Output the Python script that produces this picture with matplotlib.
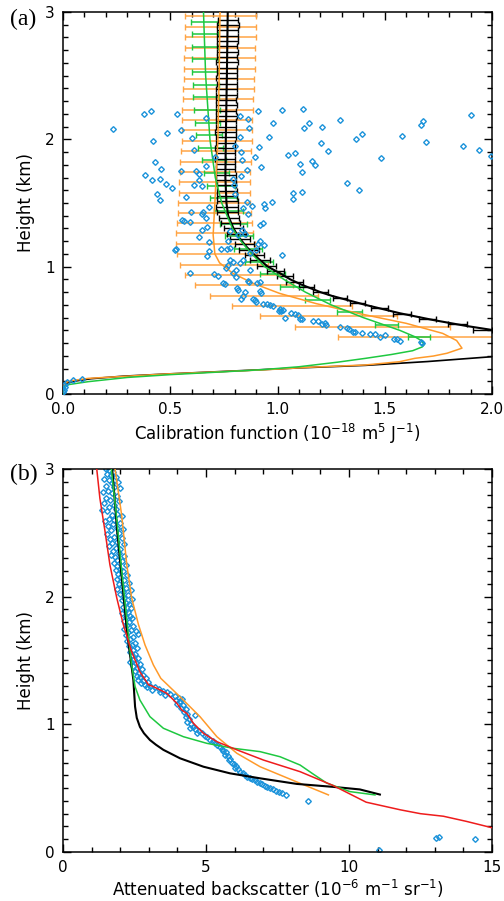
import matplotlib
matplotlib.use('Agg')
import matplotlib.pyplot as plt
from matplotlib.ticker import MultipleLocator

# ---------------- panel (a): calibration function ----------------
# black curve, upper branch (height km, value)
blk_up_h = [3.0, 2.5, 2.0, 1.7, 1.5, 1.4, 1.3, 1.236, 1.157, 1.079, 1.0, 0.95, 0.90,
            0.86, 0.80, 0.77, 0.70, 0.634, 0.581, 0.534, 0.503, 0.48]
blk_up_x = [0.768, 0.764, 0.759, 0.757, 0.762, 0.770, 0.795, 0.817, 0.855, 0.900, 0.955,
            1.010, 1.060, 1.110, 1.200, 1.255, 1.410, 1.571, 1.726, 1.882, 2.0, 2.12]
# black curve, lower branch
blk_lo_h = [0.0, 0.03, 0.06, 0.085, 0.10, 0.12, 0.14, 0.157, 0.185, 0.205, 0.225, 0.255, 0.293, 0.31]
blk_lo_x = [0.0, 0.001, 0.004, 0.015, 0.05, 0.13, 0.28, 0.48, 0.85, 1.10, 1.41, 1.70, 2.0, 2.15]

org_h = [3.0, 2.5, 2.0, 1.5, 1.25, 1.1, 1.03, 0.95, 0.87, 0.79, 0.71, 0.63, 0.555, 0.476,
         0.42, 0.36, 0.32, 0.298, 0.28, 0.254, 0.228, 0.21, 0.19, 0.157, 0.14, 0.123,
         0.105, 0.09, 0.05, 0.0]
org_x = [0.732, 0.728, 0.722, 0.708, 0.700, 0.708, 0.730, 0.790, 0.885, 1.010, 1.180, 1.385,
         1.600, 1.770, 1.835, 1.860, 1.790, 1.726, 1.640, 1.570, 1.410, 1.150, 0.940, 0.480,
         0.300, 0.118, 0.040, 0.010, 0.002, 0.0]

grn_h = [3.0, 2.5, 2.0, 1.7, 1.5, 1.3, 1.2, 1.1, 1.0, 0.9, 0.8, 0.7, 0.6, 0.5, 0.45, 0.42,
         0.39, 0.37, 0.34, 0.31, 0.28, 0.25, 0.214, 0.19, 0.17, 0.152, 0.13, 0.097, 0.075,
         0.06, 0.03, 0.0]
grn_x = [0.655, 0.665, 0.685, 0.710, 0.740, 0.790, 0.830, 0.880, 0.940, 1.030, 1.130, 1.250,
         1.400, 1.570, 1.640, 1.670, 1.685, 1.675, 1.630, 1.530, 1.410, 1.280, 1.100, 0.920,
         0.700, 0.500, 0.300, 0.118, 0.030, 0.005, 0.001, 0.0]

# orange error bars: height, low, high
obar_h = [2.969, 2.885, 2.800, 2.715, 2.636, 2.550, 2.470, 2.393, 2.314, 2.230, 2.152, 2.073,
          1.990, 1.908, 1.825, 1.746, 1.662, 1.581, 1.503, 1.419, 1.340, 1.262, 1.178, 1.097,
          1.013, 0.935, 0.856, 0.772, 0.694, 0.613, 0.529, 0.448]
obar_lo = [0.571, 0.571, 0.570, 0.568, 0.566, 0.564, 0.562, 0.560, 0.560, 0.557, 0.555, 0.554,
           0.553, 0.549, 0.546, 0.545, 0.542, 0.540, 0.537, 0.534, 0.531, 0.529, 0.529, 0.532,
           0.545, 0.569, 0.615, 0.685, 0.786, 0.918, 1.082, 1.283]
obar_hi = [0.900, 0.900, 0.899, 0.897, 0.895, 0.893, 0.892, 0.890, 0.887, 0.884, 0.882, 0.881,
           0.879, 0.876, 0.875, 0.873, 0.871, 0.870, 0.871, 0.875, 0.879, 0.884, 0.893, 0.905,
           0.955, 1.010, 1.074, 1.190, 1.345, 1.556, 1.805, 2.300]

# green error bars
gbar_h = [2.925, 2.826, 2.726, 2.627, 2.528, 2.429, 2.330, 2.230, 2.131, 2.032, 1.933, 1.834,
          1.734, 1.635, 1.536, 1.437, 1.338, 1.238, 1.139, 1.040, 0.941, 0.842, 0.742, 0.643,
          0.544, 0.445]
gbar_lo = [0.597, 0.600, 0.601, 0.602, 0.603, 0.606, 0.608, 0.612, 0.615, 0.620, 0.631, 0.648,
           0.659, 0.670, 0.685, 0.705, 0.733, 0.756, 0.795, 0.849, 0.918, 1.012, 1.128, 1.278,
           1.455, 1.610]
gbar_hi = [0.721, 0.721, 0.722, 0.723, 0.724, 0.725, 0.727, 0.730, 0.734, 0.740, 0.747, 0.760,
           0.776, 0.802, 0.809, 0.840, 0.857, 0.888, 0.927, 0.981, 1.035, 1.120, 1.245, 1.392,
           1.563, 1.710]

# black error bars: height, centre, half width
kbar_h = [2.94, 2.898, 2.856, 2.814, 2.772, 2.73, 2.688, 2.646, 2.604, 2.562, 2.52, 2.478,
          2.436, 2.394, 2.352, 2.31, 2.268, 2.226, 2.184, 2.142, 2.10, 2.058, 2.016, 1.974,
          1.932, 1.89, 1.848, 1.806, 1.764, 1.722, 1.68, 1.638, 1.596, 1.554, 1.512, 1.47,
          1.428, 1.386, 1.344, 1.302, 1.26, 1.218, 1.176, 1.134, 1.092, 1.05, 1.008, 0.966,
          0.924, 0.882, 0.84, 0.798, 0.756, 0.714, 0.672, 0.63, 0.588, 0.546, 0.504]
kbar_x = [0.768, 0.768, 0.768, 0.767, 0.767, 0.766, 0.766, 0.765, 0.765, 0.764, 0.764, 0.763,
          0.763, 0.762, 0.762, 0.761, 0.761, 0.760, 0.760, 0.759, 0.759, 0.758, 0.758, 0.757,
          0.757, 0.757, 0.757, 0.757, 0.758, 0.759, 0.760, 0.762, 0.764, 0.765, 0.765, 0.765,
          0.768, 0.772, 0.782, 0.795, 0.808, 0.825, 0.845, 0.866, 0.892, 0.920, 0.950, 0.990,
          1.035, 1.080, 1.135, 1.200, 1.290, 1.375, 1.475, 1.580, 1.700, 1.840, 1.956]
kbar_e = [0.047, 0.051, 0.049, 0.048, 0.050, 0.047, 0.049, 0.048, 0.050, 0.047, 0.048, 0.049,
          0.047, 0.048, 0.050, 0.047, 0.048, 0.046, 0.049, 0.047, 0.046, 0.048, 0.047, 0.046,
          0.047, 0.045, 0.047, 0.046, 0.045, 0.046, 0.047, 0.045, 0.046, 0.047, 0.049, 0.050,
          0.048, 0.047, 0.045, 0.044, 0.043, 0.045, 0.044, 0.046, 0.045, 0.047, 0.044, 0.040,
          0.038, 0.040, 0.036, 0.034, 0.032, 0.035, 0.040, 0.042, 0.040, 0.045, 0.043]

# measured calibration values (blue diamonds)
cal_x = [0.233, 0.377, 0.408, 0.532, 0.419, 0.486, 0.549, 0.602, 0.612, 0.666, 0.825, 0.864,
         0.868, 0.825, 0.911, 1.021, 1.118, 0.981, 0.962, 0.912, 0.894, 0.830, 0.834, 0.801,
         1.149, 1.123, 1.208, 1.202, 1.234, 1.292, 1.365, 1.394, 1.580, 1.670, 1.678, 1.693,
         1.903, 1.863, 1.941, 1.995, 1.483, 1.047, 1.080, 1.107, 1.159, 1.175, 1.114, 1.326,
         1.382, 1.112, 1.074, 1.073, 0.923, 0.856, 0.828, 0.794, 0.798, 0.803, 0.708, 0.666,
         0.619, 0.632, 0.549, 0.430, 0.458, 0.380, 0.417, 0.451, 0.482, 0.507, 0.439, 0.453,
         0.610, 0.632, 0.646, 0.574, 0.974, 0.937, 0.941, 0.882, 0.856, 0.840, 0.864, 0.934,
         0.920, 0.682, 0.596, 0.651, 0.647, 0.557, 0.562, 0.594, 0.666, 0.669, 0.647, 0.635,
         0.679, 0.520, 0.529, 0.682, 0.672, 0.736, 0.778, 0.836, 0.816, 0.848, 0.769, 0.778,
         0.766, 0.918, 0.909, 0.939, 0.902, 1.021, 0.870, 0.794, 0.778, 0.767, 0.759, 0.794,
         0.826, 0.806, 0.873, 0.839, 0.705, 0.721, 0.591, 0.753, 0.747, 0.806, 0.809, 0.816,
         0.864, 0.868, 0.904, 0.917, 0.848, 0.840, 0.828, 0.918, 0.924, 0.884, 0.897, 0.900,
         0.934, 0.949, 0.965, 0.980, 1.012, 1.015, 1.009, 1.024, 1.037, 1.061, 1.082, 1.097,
         1.105, 1.114, 1.167, 1.191, 1.206, 1.222, 1.226, 1.292, 1.323, 1.335, 1.351, 1.362,
         1.393, 1.432, 1.455, 1.479, 1.502, 1.541, 1.556, 1.572, 1.670, 1.675,
         0.001, 0.009, 0.017, 0.048, 0.087, 0.004, 0.003]
cal_h = [2.08, 2.20, 2.22, 2.20, 1.99, 2.05, 2.07, 2.01, 1.92, 2.17, 2.18, 2.16,
         2.09, 2.02, 2.22, 2.23, 2.24, 2.13, 2.02, 1.94, 1.86, 1.90, 1.84, 1.95,
         2.13, 2.09, 2.10, 1.97, 1.91, 2.15, 2.00, 2.04, 2.03, 2.11, 2.14, 1.98,
         2.19, 1.95, 1.92, 1.87, 1.85, 1.88, 1.89, 1.81, 1.83, 1.80, 1.74, 1.66,
         1.60, 1.59, 1.58, 1.53, 1.78, 1.76, 1.71, 1.69, 1.64, 1.57, 1.86, 1.79,
         1.75, 1.73, 1.75, 1.82, 1.77, 1.72, 1.68, 1.69, 1.65, 1.62, 1.57, 1.52,
         1.64, 1.68, 1.63, 1.55, 1.51, 1.49, 1.46, 1.48, 1.51, 1.46, 1.41, 1.34,
         1.33, 1.47, 1.43, 1.43, 1.41, 1.37, 1.36, 1.35, 1.38, 1.31, 1.29, 1.23,
         1.19, 1.13, 1.14, 1.12, 1.08, 1.14, 1.28, 1.29, 1.25, 1.26, 1.20, 1.15,
         1.14, 1.20, 1.18, 1.17, 1.13, 1.09, 1.11, 1.04, 1.05, 1.01, 0.99, 0.95,
         1.03, 0.97, 0.97, 1.05, 0.94, 0.93, 0.95, 0.86, 0.87, 0.92, 0.83, 0.82,
         0.89, 0.88, 0.87, 0.88, 0.80, 0.77, 0.75, 0.81, 0.79, 0.75, 0.74, 0.72,
         0.71, 0.71, 0.70, 0.69, 0.67, 0.65, 0.65, 0.66, 0.60, 0.64, 0.63, 0.62,
         0.59, 0.59, 0.57, 0.57, 0.55, 0.56, 0.54, 0.53, 0.52, 0.51, 0.49, 0.49,
         0.48, 0.47, 0.47, 0.45, 0.46, 0.43, 0.43, 0.42, 0.41, 0.40,
         0.018, 0.057, 0.097, 0.110, 0.118, 0.035, 0.07]

# ---------------- panel (b): attenuated backscatter ----------------
red_h = [3.05, 3.0, 2.77, 2.51, 2.25, 1.99, 1.78, 1.57, 1.41, 1.31, 1.295, 1.243, 1.165,
         1.112, 1.086, 1.008, 0.93, 0.864, 0.80, 0.72, 0.629, 0.52, 0.39, 0.33, 0.30, 0.28,
         0.24, 0.19]
red_x = [1.15, 1.18, 1.29, 1.47, 1.64, 1.88, 2.11, 2.40, 2.69, 2.99, 3.16, 3.63, 3.98,
         4.15, 4.33, 4.56, 4.91, 5.38, 6.08, 7.01, 8.29, 9.45, 10.6, 11.8, 12.5, 13.3,
         14.1, 15.0]

blkb_h = [3.0, 2.5, 2.0, 1.7, 1.45, 1.347, 1.138, 1.05, 0.98, 0.93, 0.877, 0.84, 0.80,
          0.734, 0.668, 0.616, 0.577, 0.533, 0.51, 0.49, 0.45]
blkb_x = [1.72, 1.90, 2.12, 2.25, 2.40, 2.46, 2.52, 2.58, 2.69, 2.83, 3.04, 3.25, 3.51,
          4.09, 4.91, 5.84, 6.89, 8.18, 9.45, 10.38, 11.08]

grnb_h = [3.0, 2.63, 2.23, 1.84, 1.48, 1.295, 1.19, 1.06, 0.969, 0.903, 0.851, 0.812,
          0.786, 0.746, 0.681, 0.61, 0.54, 0.473, 0.447]
grnb_x = [1.69, 1.87, 2.04, 2.22, 2.39, 2.52, 2.69, 3.04, 3.51, 4.21, 5.03, 5.96,
          6.89, 7.59, 8.29, 8.75, 9.22, 10.03, 10.91]

orgb_h = [3.0, 2.64, 2.25, 1.99, 1.78, 1.62, 1.465, 1.36, 1.216, 1.06, 0.903, 0.773,
          0.668, 0.538, 0.447]
orgb_x = [1.82, 2.05, 2.23, 2.40, 2.64, 2.87, 3.16, 3.42, 4.09, 4.79, 5.38, 6.08,
          6.89, 8.29, 9.28]

obs_pts = [
    (1.50, 3.00), (1.62, 2.99), (1.75, 2.98), (1.55, 2.96), (1.68, 2.95), (1.85, 2.94),
    (1.45, 2.92), (1.60, 2.91), (1.92, 2.90), (1.70, 2.89), (1.52, 2.87), (1.80, 2.86),
    (1.98, 2.85), (1.58, 2.83), (1.40, 2.82), (1.72, 2.81), (1.88, 2.79), (1.50, 2.77),
    (1.65, 2.76), (1.95, 2.75), (1.42, 2.73), (1.78, 2.72), (1.60, 2.70), (1.85, 2.69),
    (1.35, 2.68), (1.55, 2.67), (1.90, 2.65), (1.70, 2.64), (2.05, 2.63), (1.62, 2.61),
    (1.80, 2.60), (1.48, 2.59), (2.00, 2.58), (1.75, 2.57), (1.58, 2.55), (1.88, 2.54),
    (2.10, 2.53), (1.68, 2.52), (1.95, 2.50), (1.55, 2.49), (1.80, 2.47), (2.05, 2.46),
    (1.65, 2.45), (1.90, 2.43), (1.72, 2.42), (2.12, 2.41), (1.60, 2.40), (1.85, 2.38),
    (2.00, 2.37), (1.75, 2.36), (1.95, 2.34), (1.68, 2.33), (2.15, 2.32), (1.82, 2.31),
    (1.90, 2.29), (2.05, 2.28), (1.78, 2.26), (2.20, 2.25), (1.88, 2.24), (1.98, 2.22),
    (1.84, 2.21), (2.10, 2.20), (1.92, 2.18), (2.25, 2.17), (2.00, 2.15), (1.88, 2.14),
    (2.15, 2.13), (2.30, 2.11), (1.95, 2.10), (2.05, 2.08), (2.20, 2.07), (1.90, 2.06),
    (2.38, 2.05), (2.10, 2.04), (2.00, 2.02), (2.28, 2.01), (2.15, 1.99), (2.40, 1.98),
    (2.05, 1.97), (2.22, 1.95), (2.32, 1.94), (2.10, 1.92), (2.38, 1.91), (2.18, 1.89),
    (2.28, 1.88), (2.05, 1.87), (2.35, 1.85), (2.20, 1.84), (2.42, 1.83), (2.12, 1.81),
    (2.30, 1.80), (2.25, 1.78), (2.45, 1.77), (2.15, 1.75), (2.38, 1.74), (2.55, 1.73),
    (2.28, 1.72), (2.62, 1.71), (2.20, 1.70), (2.45, 1.68), (2.35, 1.67), (2.25, 1.65),
    (2.50, 1.64), (2.40, 1.62), (2.30, 1.61), (2.58, 1.60), (2.45, 1.58), (2.35, 1.57),
    (2.52, 1.55), (2.40, 1.54), (2.62, 1.52), (2.48, 1.51), (2.35, 1.49), (2.55, 1.48),
    (2.70, 1.47), (2.45, 1.46), (2.60, 1.44), (2.75, 1.43), (2.52, 1.42), (2.65, 1.40),
    (2.80, 1.39), (2.58, 1.38), (2.70, 1.37), (2.90, 1.36), (2.62, 1.35), (2.78, 1.34),
    (2.98, 1.33), (2.72, 1.32), (2.85, 1.31), (3.05, 1.30), (3.20, 1.29), (2.95, 1.29),
    (3.35, 1.28), (3.10, 1.27), (3.50, 1.26), (3.62, 1.25), (3.40, 1.25), (3.75, 1.24),
    (3.58, 1.23), (3.90, 1.22), (4.05, 1.21), (3.95, 1.19), (4.15, 1.20), (4.08, 1.18),
    (3.98, 1.16), (4.20, 1.15), (4.12, 1.13), (4.30, 1.12), (4.22, 1.10), (4.35, 1.08),
    (4.60, 1.07), (4.30, 1.06), (4.42, 1.04), (4.35, 1.02), (4.48, 1.00), (4.55, 0.98),
    (4.45, 0.97), (4.62, 0.96), (4.75, 0.95), (4.68, 0.93), (4.85, 0.93), (4.95, 0.91),
    (5.05, 0.90), (5.15, 0.88), (5.25, 0.87), (5.30, 0.85), (5.40, 0.84), (5.48, 0.82),
    (5.55, 0.81), (5.60, 0.79), (5.70, 0.78), (5.65, 0.76), (5.78, 0.75), (5.85, 0.73),
    (5.80, 0.72), (5.92, 0.70), (5.98, 0.69), (6.05, 0.67), (6.02, 0.66), (6.12, 0.65),
    (6.20, 0.63), (6.28, 0.62), (6.35, 0.60), (6.45, 0.59), (6.55, 0.58), (6.62, 0.57),
    (6.70, 0.56), (6.80, 0.55), (6.88, 0.54), (6.95, 0.53), (7.05, 0.52), (7.15, 0.51),
    (7.25, 0.50), (7.35, 0.49), (7.45, 0.48), (7.55, 0.47), (7.65, 0.46), (7.80, 0.45),
    (8.55, 0.40), (11.05, 0.015), (13.05, 0.11), (13.15, 0.115), (14.40, 0.10)]
obs_x = [p[0] for p in obs_pts]
obs_h = [p[1] for p in obs_pts]

BLUE = '#1a92da'
ORANGE = '#ff9a2a'
GREEN = '#1ec840'
RED = '#ee1c1c'

fig = plt.figure(figsize=(5.04, 9.01), dpi=100)
ax1 = fig.add_axes([0.125, 0.5627, 0.8512, 0.4240])
ax2 = fig.add_axes([0.125, 0.0544, 0.8512, 0.4251])


def style(ax, xmaj, xmin):
    ax.set_ylim(0, 3)
    ax.xaxis.set_major_locator(MultipleLocator(xmaj))
    ax.xaxis.set_minor_locator(MultipleLocator(xmin))
    ax.yaxis.set_major_locator(MultipleLocator(1))
    ax.yaxis.set_minor_locator(MultipleLocator(0.1))
    ax.tick_params(which='both', direction='in', top=True, right=True, width=1.0,
                   labelsize=11, pad=6)
    ax.tick_params(which='major', length=6)
    ax.tick_params(which='minor', length=3.5)
    for s in ax.spines.values():
        s.set_linewidth(1.1)
    ax.set_ylabel('Height (km)', fontsize=12, labelpad=7)


# panel (a)
oc = [(l + h) / 2 for l, h in zip(obar_lo, obar_hi)]
oe = [(h - l) / 2 for l, h in zip(obar_lo, obar_hi)]
ax1.errorbar(oc, obar_h, xerr=oe, fmt='none', ecolor='#ffa445', elinewidth=1.1,
             capsize=2, capthick=1.0, zorder=2)
gc = [(l + h) / 2 for l, h in zip(gbar_lo, gbar_hi)]
ge = [(h - l) / 2 for l, h in zip(gbar_lo, gbar_hi)]
ax1.errorbar(gc, gbar_h, xerr=ge, fmt='none', ecolor=GREEN, elinewidth=1.1,
             capsize=2, capthick=1.0, zorder=3)
ax1.errorbar(kbar_x, kbar_h, xerr=kbar_e, fmt='none', ecolor='black', elinewidth=1.0,
             capsize=2, capthick=1.0, zorder=4)
ax1.plot(org_x, org_h, color=ORANGE, lw=1.1, zorder=5)
ax1.plot(grn_x, grn_h, color=GREEN, lw=1.1, zorder=6)
ax1.plot(blk_up_x, blk_up_h, color='black', lw=1.5, zorder=5)
ax1.plot(blk_lo_x, blk_lo_h, color='black', lw=1.2, zorder=4)
ax1.plot(cal_x, cal_h, ls='none', marker='D', ms=2.9, mfc='none', mec=BLUE, mew=1.0,
         zorder=7)
ax1.set_xlim(0, 2.0)
style(ax1, 0.5, 0.1)
ax1.xaxis.set_major_formatter(plt.FormatStrFormatter('%.1f'))
ax1.set_xlabel(r'Calibration function (10$^{-18}$ m$^{5}$ J$^{-1}$)', fontsize=12, labelpad=3)

# panel (b)
ax2.plot(obs_x, obs_h, ls='none', marker='D', ms=2.9, mfc='none', mec=BLUE, mew=1.0,
         zorder=2)
ax2.plot(orgb_x, orgb_h, color=ORANGE, lw=1.1, zorder=3)
ax2.plot(grnb_x, grnb_h, color=GREEN, lw=1.1, zorder=4)
ax2.plot(red_x, red_h, color=RED, lw=1.1, zorder=5)
ax2.plot(blkb_x, blkb_h, color='black', lw=1.5, zorder=3)
ax2.set_xlim(0, 15)
style(ax2, 5, 1)
ax2.set_xlabel(r'Attenuated backscatter (10$^{-6}$ m$^{-1}$ sr$^{-1}$)', fontsize=12, labelpad=2)

fig.text(0.02, 0.978, '(a)', fontsize=17, family='Liberation Serif', va='center')
fig.text(0.02, 0.473, '(b)', fontsize=17, family='Liberation Serif', va='center')

fig.savefig('out.png', dpi=100)
